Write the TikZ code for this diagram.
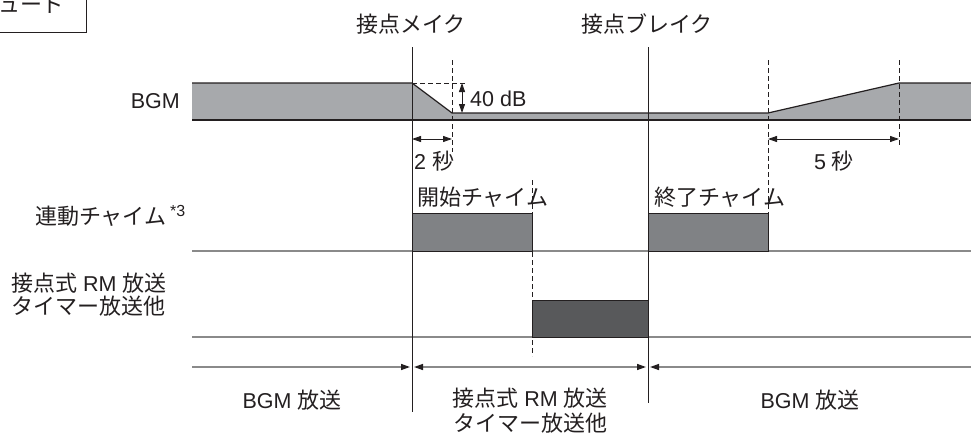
\documentclass[tikz,border=0pt]{standalone}
\usepackage{fontspec}
\setmainfont{Liberation Sans}
\newfontfamily\jpf{Noto Sans CJK JP}
\newcommand\jp[1]{{\fontsize{22}{26}\jpf #1}}
\usetikzlibrary{arrows.meta}
\definecolor{bgmgray}{HTML}{A7A9AC}
\definecolor{chimegray}{HTML}{808285}
\definecolor{rmgray}{HTML}{58595B}
\definecolor{linegray}{HTML}{8A8A8A}
\definecolor{ink}{HTML}{231F20}
\tikzset{
  lbl/.style={inner sep=0pt, text=ink, font=\fontsize{21.5}{26}\selectfont},
  solidv/.style={draw=ink, line width=0.8pt},
  dashv/.style={draw=ink, line width=0.8pt, dash pattern=on 5pt off 3pt},
  dim/.style={draw=ink, line width=0.9pt, {Triangle[length=9pt,width=6pt]}-{Triangle[length=9pt,width=6pt]}},
  base/.style={draw=linegray, line width=1.6pt},
  tipR/.style={-{Triangle[length=9pt,width=6pt,color=ink]}},
  tipL/.style={{Triangle[length=9pt,width=6pt,color=ink]}-},
  tipLR/.style={{Triangle[length=9pt,width=6pt,color=ink]}-{Triangle[length=9pt,width=6pt,color=ink]}},
  bar/.style={draw=ink, line width=0.8pt}
}
\begin{document}
\begin{tikzpicture}[x=1pt,y=-1pt]
\useasboundingbox (0,0) rectangle (971,434);
\begin{scope}
\clip (0,0) rectangle (971,434);
% top-left box (cut off)
\draw[ink, line width=1pt] (-10,-10) rectangle (86,32);
\node[lbl, anchor=base east] (mode) at (65,12) {\jp{ュード}};

% headings
\node[lbl] (make) at (411,24) {\jp{接点メイク}};
\node[lbl] (brk) at (647,24) {\jp{接点ブレイク}};

% named points
\coordinate (mkT) at (412,47);  \coordinate (mkB) at (412,412);
\coordinate (brT) at (648,47);  \coordinate (brB) at (648,403);

% BGM band
\fill[bgmgray] (192,83) -- (412,83) -- (452,113) -- (768,113) -- (899,83) -- (971,83) -- (971,120) -- (192,120) -- cycle;
\draw[ink, line width=1.2pt] (192,83) -- (412,83) -- (452,113) -- (768,113) -- (899,83) -- (971,83);
\draw[ink, line width=1.6pt] (192,120) -- (971,120);

% baselines
\draw[base] (192,251) -- (971,251);
\draw[base] (192,337) -- (971,337);

% chime bars
\draw[bar, fill=chimegray] (412,213) rectangle (532,251);
\draw[bar, fill=chimegray] (648,213) rectangle (768,251);
% RM bar
\draw[bar, fill=rmgray] (532,300) rectangle (648,337);

% main vertical lines
\draw[solidv] (mkT) -- (mkB);
\draw[solidv] (brT) -- (brB);

% dashed guides
\draw[dashv] (452,60) -- (452,152);
\draw[dashv] (412,83) -- (467,83);
\draw[dashv] (768,60) -- (768,213);
\draw[dashv] (899,60) -- (899,146);
\draw[dashv] (532,180) -- (532,356);

% dimension arrows
\draw[dim] (462,83) -- (462,113);
\draw[dim] (412,139) -- (452,139);
\draw[dim] (768,139) -- (899,139);

% bottom period arrows
\draw[base, line width=1.4pt, tipR] (192,367) -- (410,367);
\draw[base, line width=1.4pt, tipLR] (414,367) -- (646,367);
\draw[base, line width=1.4pt, tipL] (650,367) -- (971,367);

% labels
\node[lbl, anchor=east] (bgm) at (180,101) {BGM};
\node[lbl, anchor=west] (db) at (470,99) {40 dB};
\node[lbl, anchor=west] (s2) at (414,161) {2 \jp{秒}};
\node[lbl] (s5) at (834,161) {5 \jp{秒}};
\node[lbl, anchor=west] (chime) at (35,216) {\jp{連動チャイム}\,\raisebox{8pt}{\fontsize{16}{18}\selectfont *3}};
\node[lbl, anchor=west] (rm1) at (11,283) {\jp{接点式} RM \jp{放送}};
\node[lbl, anchor=west] (rm2) at (11,306) {\jp{タイマー放送他}};
\node[lbl, anchor=west] (start) at (417,197) {\jp{開始チャイム}};
\node[lbl, anchor=west] (end) at (654,197) {\jp{終了チャイム}};
\node[lbl] (b1) at (292,400) {BGM \jp{放送}};
\node[lbl] (c1) at (530,398) {\jp{接点式} RM \jp{放送}};
\node[lbl] (c2) at (530,423) {\jp{タイマー放送他}};
\node[lbl] (b2) at (810,400) {BGM \jp{放送}};
\end{scope}
\end{tikzpicture}
\end{document}
